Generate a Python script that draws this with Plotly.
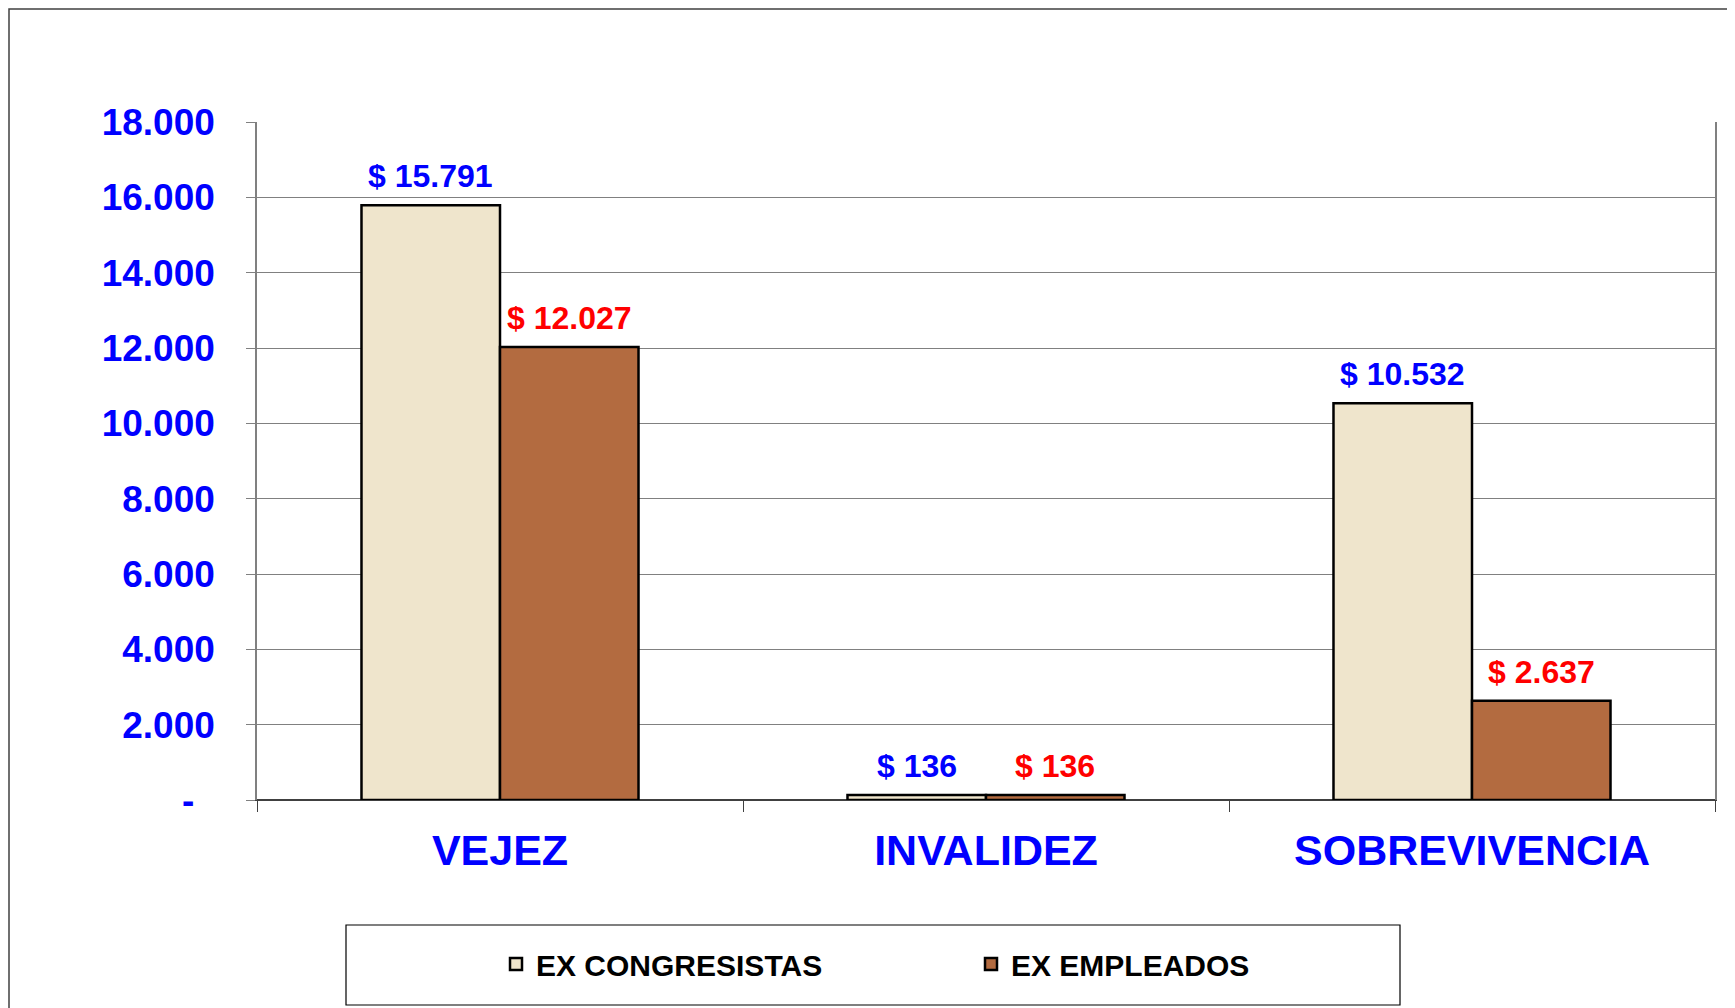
import plotly.graph_objects as go

categories = ["VEJEZ", "INVALIDEZ", "SOBREVIVENCIA"]
ex_congresistas = [15791, 136, 10532]
ex_empleados = [12027, 136, 2637]
tick_vals = [0, 2000, 4000, 6000, 8000, 10000, 12000, 14000, 16000, 18000]
tick_text = ["-\u00a0\u00a0", "2.000", "4.000", "6.000", "8.000", "10.000",
             "12.000", "14.000", "16.000", "18.000"]

FONT = "Liberation Sans, Arial, sans-serif"
OFF = 8  # page body margin
W, H = 1735 - OFF, 1008 - OFF
L, R, T, B = 257 - OFF, 20, 122 - OFF, 208
PW, PH = W - L - R, H - T - B
BARGAP = 0.43


def px(x):
    return (x - OFF - L) / PW


def py(y):
    return (H - B - (y - OFF)) / PH


series = [
    ("EX CONGRESISTAS", ex_congresistas, "#EFE5CC", "#0000FF"),
    ("EX EMPLEADOS", ex_empleados, "#B36B40", "#FF0000"),
]

fig = go.Figure()
bar_w = (1 - BARGAP) / len(series)
for j, (name, vals, col, lblcol) in enumerate(series):
    fig.add_trace(go.Bar(
        name=name, x=categories, y=vals,
        marker=dict(color=col, line=dict(color="black", width=2.5)),
    ))
    for i, v in enumerate(vals):
        fig.add_annotation(
            x=i + (j - (len(series) - 1) / 2) * bar_w, y=v, xref="x", yref="y",
            text="$ " + f"{v:,}".replace(",", "."), showarrow=False,
            yanchor="bottom", xanchor="center", yshift=9,
            font=dict(family=FONT, size=32, color=lblcol, weight="bold"),
        )

# outer frame and legend box
fig.add_shape(type="rect", xref="paper", yref="paper",
              x0=px(9), x1=px(1760), y0=py(1030), y1=py(9),
              line=dict(color="#404040", width=1.5), layer="below")
fig.add_shape(type="rect", xref="paper", yref="paper",
              x0=px(346), x1=px(1400), y0=py(1005), y1=py(925),
              line=dict(color="black", width=1.2), layer="below")

fig.update_layout(
    width=W, height=H,
    margin=dict(l=L, r=R, t=T, b=B),
    paper_bgcolor="white", plot_bgcolor="white",
    separators=",.",
    barmode="group", bargap=BARGAP, bargroupgap=0,
    font=dict(family=FONT, color="black"),
    showlegend=True,
    legend=dict(
        orientation="h", x=px(496), xanchor="left", y=py(964), yanchor="middle",
        font=dict(family=FONT, size=30, color="black", weight="bold"),
        entrywidth=430, entrywidthmode="pixels",
        bgcolor="rgba(0,0,0,0)", borderwidth=0,
    ),
    xaxis=dict(
        showline=True, linecolor="#404040", linewidth=1,
        ticks="outside", tickson="boundaries", ticklen=11, tickcolor="#404040",
        tickfont=dict(family=FONT, size=43, color="#0000FF", weight="bold"),
        ticklabelstandoff=12,
        showgrid=False, mirror=False,
    ),
    yaxis=dict(
        range=[0, 18000], tickvals=tick_vals, ticktext=tick_text,
        showline=True, linecolor="#808080", linewidth=1.5, mirror=True,
        ticks="outside", ticklen=9, tickcolor="#808080",
        tickfont=dict(family=FONT, size=37, color="#0000FF", weight="bold"),
        ticklabelstandoff=24,
        showgrid=True, gridcolor="#808080", gridwidth=1,
        zeroline=True, zerolinecolor="#404040", zerolinewidth=1.5,
    ),
)

fig.write_html("out.html")
